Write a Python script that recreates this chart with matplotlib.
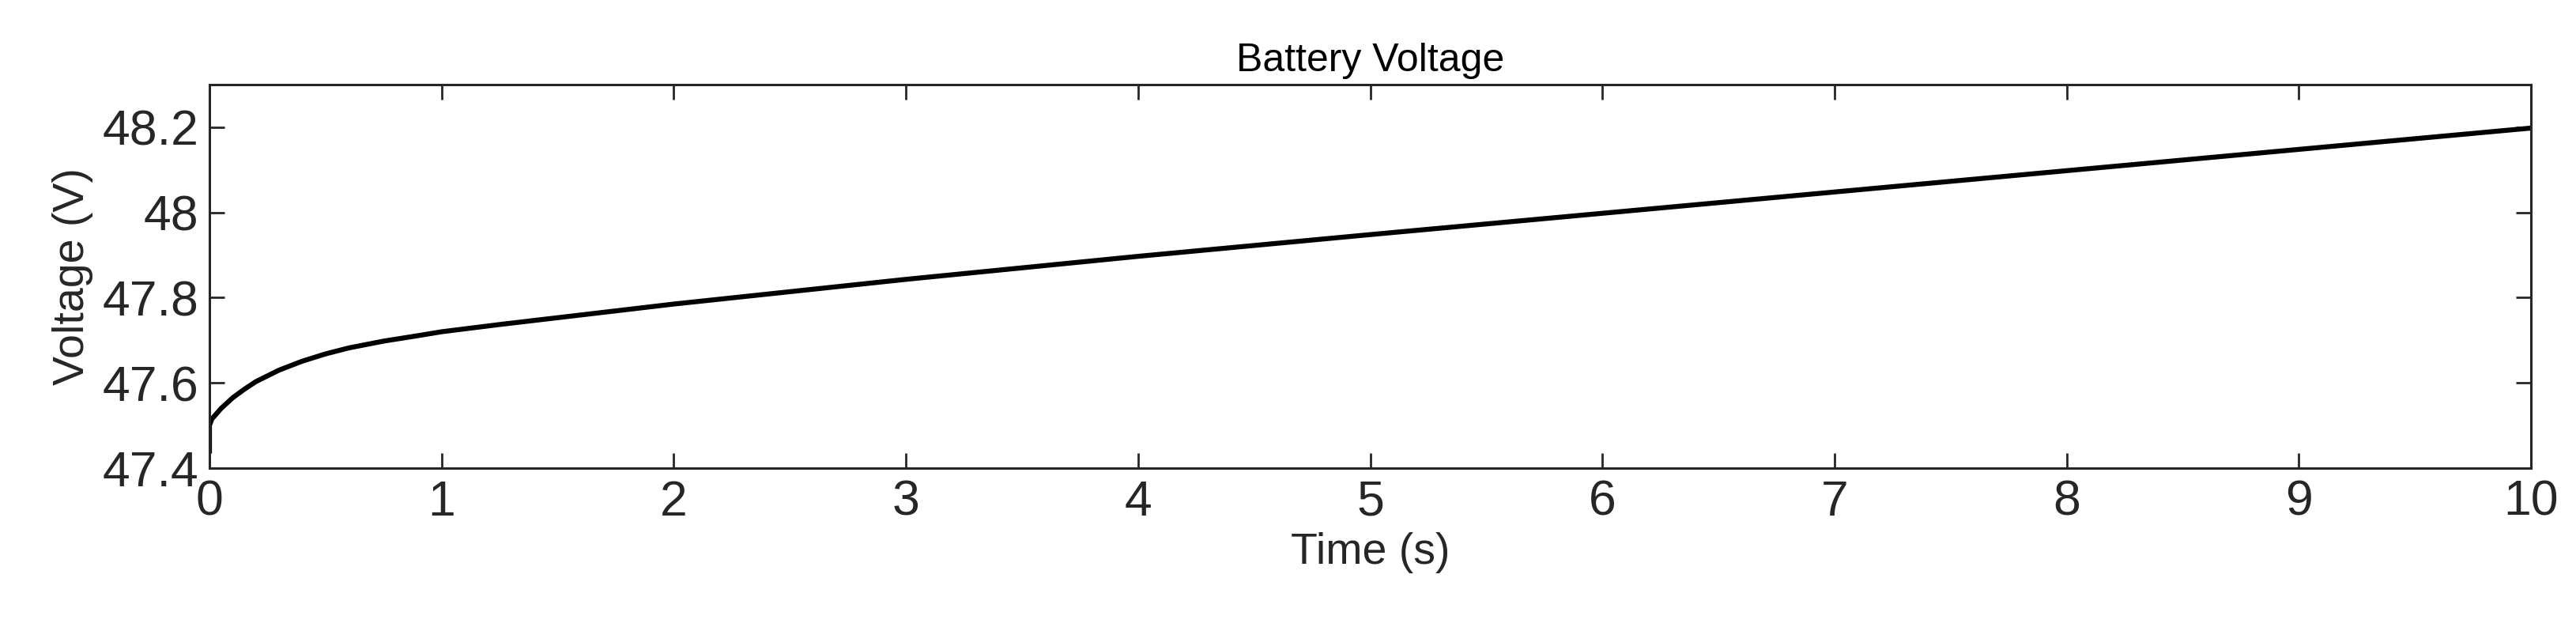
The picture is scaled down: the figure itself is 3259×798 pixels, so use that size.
import matplotlib
matplotlib.use("Agg")
import matplotlib.pyplot as plt

# Values
time_s = [0.0, 0.0, 0.01, 0.05, 0.1, 0.15, 0.2, 0.3, 0.4, 0.5, 0.6, 0.75, 0.9, 1.0,
          1.25, 1.5, 1.75, 2.0, 3.0, 4.0, 5.0, 6.0, 7.0, 8.0, 9.0, 10.0]
voltage = [47.44, 47.50, 47.515, 47.54, 47.565, 47.585, 47.603, 47.63, 47.651, 47.668,
           47.682, 47.698, 47.711, 47.72, 47.737, 47.753, 47.769, 47.785, 47.843, 47.897,
           47.948, 47.998, 48.048, 48.098, 48.148, 48.198]
x_ticks = list(range(0, 11))
y_ticks = [47.4, 47.6, 47.8, 48.0, 48.2]
y_labels = ["47.4", "47.6", "47.8", "48", "48.2"]

plt.rcParams["font.family"] = ["Liberation Sans", "DejaVu Sans"]

fig = plt.figure(figsize=(32.59, 7.98), dpi=100)
ax = fig.add_axes([265 / 3259, 1 - 592 / 798, (3202 - 265) / 3259, (592 - 107) / 798])
ax.plot(time_s, voltage, color="black", linewidth=4.5)
ax.set_xlim(0, 10)
ax.set_ylim(47.4, 48.3)
ax.set_xticks(x_ticks)
ax.set_yticks(y_ticks)
ax.set_yticklabels(y_labels)
ax.tick_params(direction="in", length=14, width=2, labelsize=45, colors="#262626",
               top=True, right=True, pad=10)
for s in ax.spines.values():
    s.set_linewidth(2.2)
    s.set_color("#262626")
ax.set_xlabel("Time (s)", fontsize=40, color="#262626", labelpad=6)
ax.set_ylabel("Voltage (V)", fontsize=40, color="#262626", labelpad=8)
ax.set_title("Battery Voltage", fontsize=36, color="black", pad=12)

fig.savefig("out.png", dpi=100)
